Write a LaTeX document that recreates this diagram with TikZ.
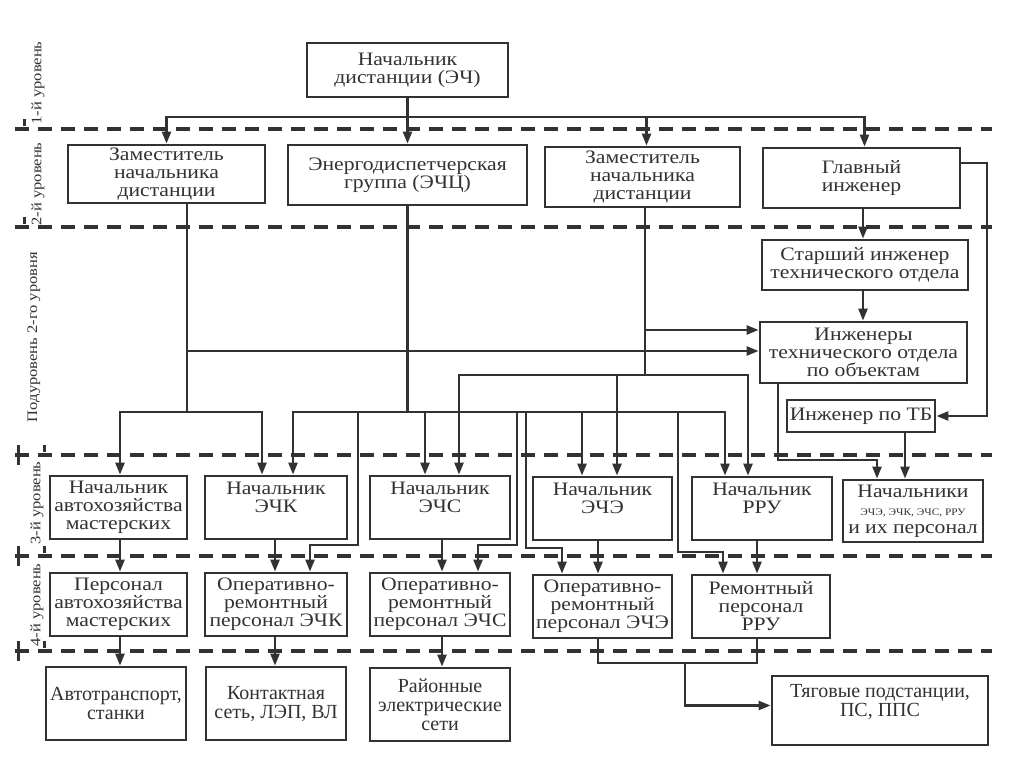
\documentclass[tikz,border=0pt]{standalone}
\usepackage{fontspec}
\setmainfont[FakeStretch=1.14]{Liberation Serif}
\newfontfamily\condfont[FakeStretch=1.0]{Liberation Serif}
\usetikzlibrary{arrows.meta,calc}
\definecolor{ink}{RGB}{50,50,50}
\begin{document}
\begin{tikzpicture}[x=1pt,y=-1pt,
  box/.style={draw=ink, line width=2.8pt, fill=white, inner sep=0pt, align=center, text=ink,
    font=\fontsize{19}{18}\selectfont},
  lowbox/.style={box, font=\condfont\fontsize{20}{19}\selectfont},
  conn/.style={draw=ink, line width=2.4pt},
  arr/.style={conn, -{Triangle[length=12pt,width=9pt]}},
  lvl/.style={draw=ink, line width=3.2pt, dash pattern=on 14pt off 9pt},
  tick/.style={draw=ink, line width=3pt},
  side/.style={rotate=90, text=ink, inner sep=0pt, font=\fontsize{14.5}{14.5}\selectfont}]
\useasboundingbox (0,0) rectangle (1024,767);
\fill[white] (0,0) rectangle (1024,767);

% level separators
\foreach \yy in {129,227,455,556,651} {\draw[lvl] (15,\yy) -- (992,\yy);}
\foreach \yy in {129,227} {\draw[tick] (24,\yy-10) -- (24,\yy-3);}
\foreach \yy in {455,556,651} {\draw[tick] (18,\yy-10) -- (18,\yy+10); \draw[tick] (44,\yy-10) -- (44,\yy-3);}

% side labels
\node[side] (s1) at (38,83) {1-й уровень};
\node[side] (s2) at (38,184) {2-й уровень};
\node[side] (s3) at (34,337) {Подуровень 2-го уровня};
\node[side] (s4) at (37,503) {3-й уровень};
\node[side] (s5) at (37,605) {4-й уровень};

% boxes
\node[box, minimum width=201, minimum height=54] (boss) at (407.5,70) {Начальник\\дистанции (ЭЧ)};
\node[box, minimum width=197, minimum height=58] (zam1) at (166.5,174) {Заместитель\\начальника\\дистанции};
\node[box, minimum width=239, minimum height=60] (ech) at (407.5,175) {Энергодиспетчерская\\группа (ЭЧЦ)};
\node[box, minimum width=195, minimum height=60] (zam2) at (642.5,177) {Заместитель\\начальника\\дистанции};
\node[box, minimum width=197, minimum height=60] (gi) at (861.5,178) {Главный\\инженер};
\node[box, minimum width=206, minimum height=50] (senior) at (865,265) {Старший инженер\\технического отдела};
\node[box, minimum width=207, minimum height=61] (eng) at (863.5,352.5) {Инженеры\\технического отдела\\по объектам};
\node[box, minimum width=148, minimum height=32] (tb) at (861,416) {Инженер по ТБ};

\node[box, minimum width=137, minimum height=63] (auto) at (118.5,507.5) {Начальник\\автохозяйства\\мастерских};
\node[box, minimum width=142, minimum height=63] (echk) at (276,507.5) {Начальник\\ЭЧК\\[3pt]};
\node[box, minimum width=140, minimum height=63] (echs) at (440,507.5) {Начальник\\ЭЧС\\[3pt]};
\node[box, minimum width=139, minimum height=63] (eche) at (602.5,508.5) {Начальник\\ЭЧЭ\\[3pt]};
\node[box, minimum width=140, minimum height=63] (rru) at (762,508.5) {Начальник\\РРУ\\[3pt]};
\node[box, minimum width=140, minimum height=62] (all) at (913,511) {Начальники\\{\fontsize{10}{10}\selectfont ЭЧЭ, ЭЧК, ЭЧС, РРУ}\\и их персонал};

\node[box, minimum width=137, minimum height=63] (autop) at (118.5,604.5) {Персонал\\автохозяйства\\мастерских};
\node[box, minimum width=142, minimum height=63] (echkp) at (276,604.5) {Оперативно-\\ремонтный\\персонал ЭЧК};
\node[box, minimum width=140, minimum height=63] (echsp) at (440,604.5) {Оперативно-\\ремонтный\\персонал ЭЧС};
\node[box, minimum width=139, minimum height=63] (echep) at (602.5,606.5) {Оперативно-\\ремонтный\\персонал ЭЧЭ};
\node[box, minimum width=138, minimum height=63] (rrup) at (761,606.5) {Ремонтный\\персонал\\РРУ};

\node[lowbox, minimum width=140, minimum height=73] (autotr) at (116,703.5) {Автотранспорт,\\станки};
\node[lowbox, minimum width=140, minimum height=73] (kont) at (276,703.5) {Контактная\\сеть, ЛЭП, ВЛ};
\node[lowbox, minimum width=140, minimum height=73] (rayon) at (440,704.5) {Районные\\электрические\\сети};
\node[lowbox, minimum width=216, minimum height=69] (tyag) at (880,710.5) {Тяговые подстанции,\\ПС, ППС\\[2pt]};

% level 1 -> level 2
\coordinate (b1) at (407.5,117);
\draw[conn] (boss.south) -- (b1);
\draw[arr] (b1) -| (zam1.north);
\draw[arr] (b1) -- (ech.north);
\draw[arr] (b1) -| ([xshift=4pt]zam2.north);
\draw[arr] (b1) -| ([xshift=3pt]gi.north);

% chief engineer branch
\draw[arr] ([xshift=1.5pt]gi.south) -- ([xshift=-2pt]senior.north);
\draw[arr] ([xshift=-2pt]senior.south) -- ([xshift=-0.5pt]eng.north);
\coordinate (g1) at (987,163);
\draw[arr] ([yshift=15pt]gi.east) -- (g1) |- (tb.east);
\coordinate (e1) at (778,460);
\draw[arr] ([xshift=-85.5pt]eng.south) -- (e1) -| ([xshift=-36pt]all.north);
\draw[arr] ([xshift=44pt]tb.south) -- ([xshift=-8pt]all.north);

% deputy 1
\coordinate (j1) at (187,412);
\coordinate (j1b) at (187,351);
\draw[conn] ([xshift=20.5pt]zam1.south) -- (j1);
\draw[arr] (j1) -| ([xshift=1.5pt]auto.north);
\draw[arr] (j1) -| ([xshift=-14pt]echk.north);
\draw[arr] (j1b) -- (eng.west |- j1b);

% dispatcher group
\coordinate (j2) at (407.5,412);
\draw[conn] (ech.south) -- (j2);
\draw[arr] (j2) -| ([xshift=17pt]echk.north);
\draw[arr] (j2) -| ([xshift=-15pt]echs.north);
\draw[arr] (j2) -| ([xshift=-20.5pt]eche.north);
\draw[arr] (j2) -| ([xshift=-37pt]rru.north);
\draw[arr] (j2) -| (358,545) -| ([xshift=34pt]echkp.north);
\draw[arr] (j2) -| (517,545) -| ([xshift=38pt]echsp.north);
\draw[arr] (j2) -| (526,548) -| ([xshift=-40.5pt]echep.north);
\draw[arr] (j2) -| (678,552) -| ([xshift=-38pt]rrup.north);

% deputy 2
\coordinate (j3) at (645,375);
\coordinate (j3b) at (645,330);
\draw[conn] ([xshift=2.5pt]zam2.south) -- (j3);
\draw[arr] (j3) -| ([xshift=19pt]echs.north);
\draw[arr] (j3) -| ([xshift=14.5pt]eche.north);
\draw[arr] (j3) -| ([xshift=-14pt]rru.north);
\draw[arr] (j3b) -- (eng.west |- j3b);

% level 3 -> level 4
\draw[arr] ([xshift=1.5pt]auto.south) -- ([xshift=1.5pt]autop.north);
\draw[arr] ([xshift=-1pt]echk.south) -- ([xshift=-1pt]echkp.north);
\draw[arr] ([xshift=2pt]echs.south) -- ([xshift=2pt]echsp.north);
\draw[arr] ([xshift=-4.5pt]eche.south) -- ([xshift=-4.5pt]echep.north);
\draw[arr] ([xshift=-5pt]rru.south) -- ([xshift=-4pt]rrup.north);

% level 4 -> level 5
\draw[arr] ([xshift=1.5pt]autop.south) -- ([xshift=4pt]autotr.north);
\draw[arr] ([xshift=-1pt]echkp.south) -- ([xshift=-1pt]kont.north);
\draw[arr] ([xshift=2pt]echsp.south) -- ([xshift=2pt]rayon.north);
\coordinate (t1) at (685,663);
\draw[conn] ([xshift=-4.5pt]echep.south) |- (t1);
\draw[conn] ([xshift=-4pt]rrup.south) |- (t1);
\draw[arr] (t1) |- ([yshift=5pt]tyag.west);
\end{tikzpicture}
\end{document}
